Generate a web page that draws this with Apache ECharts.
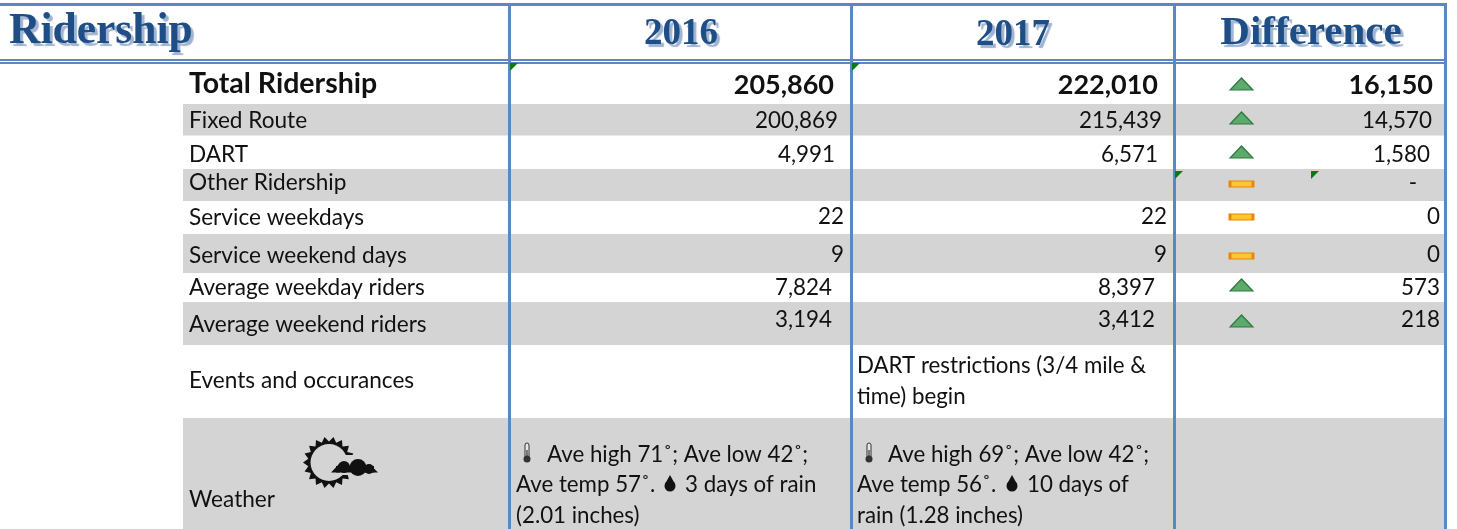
<!DOCTYPE html>
<html>
<head>
<meta charset="utf-8">
<style>html,body{margin:0;padding:0;background:#fff}#main{width:1457px;height:529px}</style>
<script src="https://cdn.jsdelivr.net/npm/echarts@6/dist/echarts.min.js"></script>
</head>
<body>
<div id="main"></div>
<script>
// table content
const headers = ['Ridership', '2016', '2017', 'Difference'];
const categories = ['Total Ridership', 'Fixed Route', 'DART', 'Other Ridership', 'Service weekdays',
    'Service weekend days', 'Average weekday riders', 'Average weekend riders', 'Events and occurances', 'Weather'];
const values2016 = ['205,860', '200,869', '4,991', '', '22', '9', '7,824', '3,194'];
const values2017 = ['222,010', '215,439', '6,571', '', '22', '9', '8,397', '3,412'];
const difference = ['16,150', '14,570', '1,580', '-', '0', '0', '573', '218'];
const trend = [1, 1, 1, 0, 0, 0, 1, 1];
const eventNote2017 = ['DART restrictions (3/4 mile &', 'time) begin'];
const weather2016 = ['Ave high 71˚; Ave low 42˚;', 'Ave temp 57˚.', '3 days of rain', '(2.01 inches)'];
const weather2017 = ['Ave high 69˚; Ave low 42˚;', 'Ave temp 56˚.', '10 days of', 'rain (1.28 inches)'];

const W = 1457, H = 529;
const BLUE = '#5b88c4', GRAY = '#d4d4d4', NAVY = '#1f4e86';
const bands = [[104, 135.5], [169, 201], [234, 273], [302, 345], [418, 529]];
const labelY = [84, 121, 155, 183, 218, 256, 288, 325, 381, 500];
const valueY = [85, 121, 155, 183, 217, 255, 288, 320];
const right2016 = [834, 838, 835, 0, 844, 844, 832, 832];
const right2017 = [1158, 1162, 1158, 0, 1167, 1167, 1155, 1155];
const rightDiff = [1433, 1432, 1430, 1417, 1440, 1440, 1440, 1440];
const trendY = [84, 118, 152, 184, 217, 256, 285, 321];

const cells = [];
const hdr = (text, x, y, align, size) => cells.push({
    text, x, y, align, verticalAlign: 'middle',
    font: 'bold ' + size + 'px "Liberation Serif"', fill: NAVY,
    textShadowColor: '#9fb4d0', textShadowOffsetX: 3, textShadowOffsetY: 3, textShadowBlur: 1
});
hdr(headers[0], 9, 32, 'left', 43.5);
hdr(headers[1], 681, 34, 'center', 37);
hdr(headers[2], 1013, 35, 'center', 37);
hdr(headers[3], 1311, 33, 'center', 41);

const txt = (text, x, y, align, font) => cells.push({
    text, x, y, align: align || 'left', verticalAlign: 'middle',
    font: font + ' Lato, "Open Sans", sans-serif', fill: '#111'
});
categories.forEach((c, i) => txt(c, 189, labelY[i], 'left', i == 0 ? 'bold 28.5px' : '22.6px'));
const num = (i) => i == 0 ? 'bold 27px' : '22.4px';
values2016.forEach((v, i) => v && txt(v, right2016[i], valueY[i], 'right', num(i)));
values2017.forEach((v, i) => v && txt(v, right2017[i], valueY[i], 'right', num(i)));
difference.forEach((v, i) => txt(v, rightDiff[i], valueY[i], 'right', num(i)));
const note = '22.3px';
txt(eventNote2017[0], 857, 366, 'left', note);
txt(eventNote2017[1], 857, 397, 'left', note);
txt(weather2016[0], 547, 455, 'left', note);
txt(weather2016[1], 516, 485, 'left', note);
txt(weather2016[2], 685, 485, 'left', note);
txt(weather2016[3], 516, 516, 'left', note);
txt(weather2017[0], 888, 455, 'left', note);
txt(weather2017[1], 857, 485, 'left', note);
txt(weather2017[2], 1027, 485, 'left', note);
txt(weather2017[3], 857, 516, 'left', note);

// thin helper for the graphic layer
const rect = (x, y, w, h, fill) => ({ type: 'rect', z: 6, silent: true, shape: { x, y, width: w, height: h }, style: { fill } });
const circle = (cx, cy, r, fill) => ({ type: 'circle', z: 6, silent: true, shape: { cx, cy, r }, style: { fill } });
const poly = (points, fill) => ({ type: 'polygon', z: 6, silent: true, shape: { points }, style: { fill } });
const corner = (x, y) => poly([[x, y], [x + 8, y], [x, y + 8]], '#0a7a12');

const thermometer = (x, y) => [
    { type: 'rect', z: 6, silent: true, shape: { x: x - 2, y: y - 10, width: 4, height: 15, r: 2 }, style: { fill: '#e8e8e8', stroke: '#333', lineWidth: 1 } },
    circle(x, y + 6, 3.5, '#333'),
    rect(x - 0.6, y - 3, 1.2, 7, '#333')
];
const drop = (x, y) => [
    circle(x, y + 2, 5.5, '#111'),
    poly([[x, y - 9], [x - 5, y], [x + 5, y]], '#111')
];
const sunPoints = [];
for (let i = 0; i < 36; i++) {
    const a = i / 36 * Math.PI * 2, r = i % 2 ? 21 : 26;
    sunPoints.push([329 + Math.cos(a) * r, 462.5 + Math.sin(a) * r]);
}
const sunIcon = [
    poly(sunPoints, '#111'),
    circle(329, 462.5, 18.5, GRAY),
    rect(342, 455, 14, 20, GRAY),
    circle(344, 467, 6, '#111'),
    circle(358, 467.5, 8.5, '#111'),
    circle(369, 469, 5, '#111'),
    rect(336, 466, 38, 6.5, '#111'),
    poly([[331, 472.5], [340, 463], [340, 472.5]], '#111'),
    poly([[378, 472.5], [370, 464.5], [370, 472.5]], '#111')
];

const lines = [
    rect(0, 3, 1447, 3, BLUE),
    rect(0, 59, 1447, 2, BLUE),
    rect(0, 62, 1447, 2, BLUE),
    rect(508, 3, 3, 526, BLUE),
    rect(850, 3, 3, 526, BLUE),
    rect(1173, 3, 3, 526, BLUE),
    rect(1444, 3, 3, 526, BLUE)
];

const option = {
    animation: false,
    grid: { left: 0, right: 0, top: 0, bottom: 0 },
    xAxis: { type: 'value', min: 0, max: W, show: false },
    yAxis: { type: 'value', min: 0, max: H, inverse: true, show: false },
    graphic: { elements: [
        ...lines,
        corner(510, 63), corner(852, 63), corner(1175, 171), corner(1311, 171),
        ...thermometer(527, 453), ...thermometer(869, 453),
        ...drop(670, 484), ...drop(1012, 484),
        ...sunIcon
    ] },
    series: [
        {
            type: 'custom', z: 1, silent: true,
            data: bands.map((b) => [183, b[0], 1445, b[1]]),
            renderItem: (params, api) => {
                const a = api.coord([api.value(0), api.value(1)]);
                const b = api.coord([api.value(2), api.value(3)]);
                return { type: 'rect', shape: { x: a[0], y: a[1], width: b[0] - a[0], height: b[1] - a[1] }, style: { fill: GRAY } };
            }
        },
        {
            type: 'custom', z: 3, silent: true,
            data: cells.map((c) => [c.x, c.y]),
            renderItem: (params, api) => {
                const p = api.coord([api.value(0), api.value(1)]);
                const { x, y, ...style } = cells[params.dataIndex];
                return { type: 'text', style: { ...style, x: p[0], y: p[1] } };
            }
        },
        // trend markers
        {
            type: 'scatter', z: 4, silent: true,
            data: trend.map((t, i) => ({
                value: [1241.5, trendY[i]],
                symbol: t ? 'triangle' : 'rect',
                symbolSize: t ? [23, 12] : [23, 6],
                itemStyle: t
                    ? { color: '#5ea96c', borderColor: '#2f7a40', borderWidth: 1.2, opacity: 1 }
                    : { color: '#fdc52f', borderColor: '#e8860c', borderWidth: 1.5, opacity: 1 }
            }))
        }
    ]
};

const myChart = echarts.init(document.getElementById('main'), null, { renderer: 'canvas' });
myChart.setOption(option);
</script>
</body>
</html>
